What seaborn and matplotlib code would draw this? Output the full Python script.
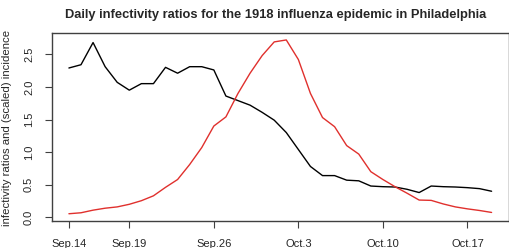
import numpy as np
import pandas as pd
import seaborn as sns
import matplotlib.pyplot as plt

# Daily values, Sep.14 to Oct.19 1918
days = pd.date_range("1918-09-14", "1918-10-19", freq="D")
infectivity = [2.29, 2.34, 2.68, 2.31, 2.07, 1.95, 2.05, 2.05, 2.30, 2.21,
               2.31, 2.31, 2.26, 1.86, 1.79, 1.72, 1.61, 1.49, 1.30, 1.04,
               0.78, 0.64, 0.64, 0.57, 0.56, 0.48, 0.47, 0.465, 0.43, 0.38,
               0.48, 0.47, 0.465, 0.455, 0.44, 0.40]
incidence = [0.055, 0.07, 0.11, 0.14, 0.16, 0.20, 0.255, 0.33, 0.46, 0.58,
             0.81, 1.07, 1.40, 1.54, 1.90, 2.21, 2.48, 2.69, 2.72, 2.42,
             1.90, 1.53, 1.39, 1.10, 0.97, 0.70, 0.58, 0.47, 0.37, 0.265,
             0.26, 0.205, 0.16, 0.13, 0.105, 0.075]
tick_days = [0, 5, 12, 19, 26, 33]
tick_labels = ["Sep.14", "Sep.19", "Sep.26", "Oct.3", "Oct.10", "Oct.17"]
y_ticks = [0.0, 0.5, 1.0, 1.5, 2.0, 2.5]

df = pd.DataFrame({"day": np.arange(len(days)),
                   "infectivity": infectivity,
                   "incidence": incidence})

sns.set_style("ticks")
plt.rcParams["font.family"] = ["Liberation Sans", "DejaVu Sans"]

fig = plt.figure(figsize=(5.09, 2.48), dpi=100)
ax = fig.add_axes([52 / 509, 1 - 220.7 / 248, 456.5 / 509, 187.7 / 248])

sns.lineplot(data=df, x="day", y="infectivity", color="black", lw=1.0, ax=ax)
sns.lineplot(data=df, x="day", y="incidence", color="#e0302d", lw=1.0, ax=ax)

# R-style 4% padding
n = len(days) - 1
ax.set_xlim(-0.04 * n, n * 1.04)
ymin, ymax = min(incidence), max(incidence)
pad = 0.04 * (ymax - ymin)
ax.set_ylim(ymin - pad, ymax + pad)

ax.set_xticks(tick_days)
ax.set_xticklabels(tick_labels, fontsize=8)
ax.set_yticks(y_ticks)
ax.set_yticklabels([f"{v:.1f}" for v in y_ticks], fontsize=8, rotation=90, va="center")
ax.tick_params(axis="both", length=5, width=0.8, color="#404040")
ax.tick_params(axis="x", pad=8)
ax.tick_params(axis="y", pad=8)

for s in ax.spines.values():
    s.set_color("#404040")
    s.set_linewidth(1.0)

ax.set_xlabel("")
ax.set_ylabel("infectivity ratios and (scaled) incidence", fontsize=8.2)
ax.yaxis.set_label_coords(-0.087, 0.492)
fig.suptitle("Daily infectivity ratios for the 1918 influenza epidemic in Philadelphia",
             fontsize=9.3, fontweight="bold", x=276 / 509, y=1 - 15 / 248, va="center")

fig.savefig("out.png", dpi=100)
